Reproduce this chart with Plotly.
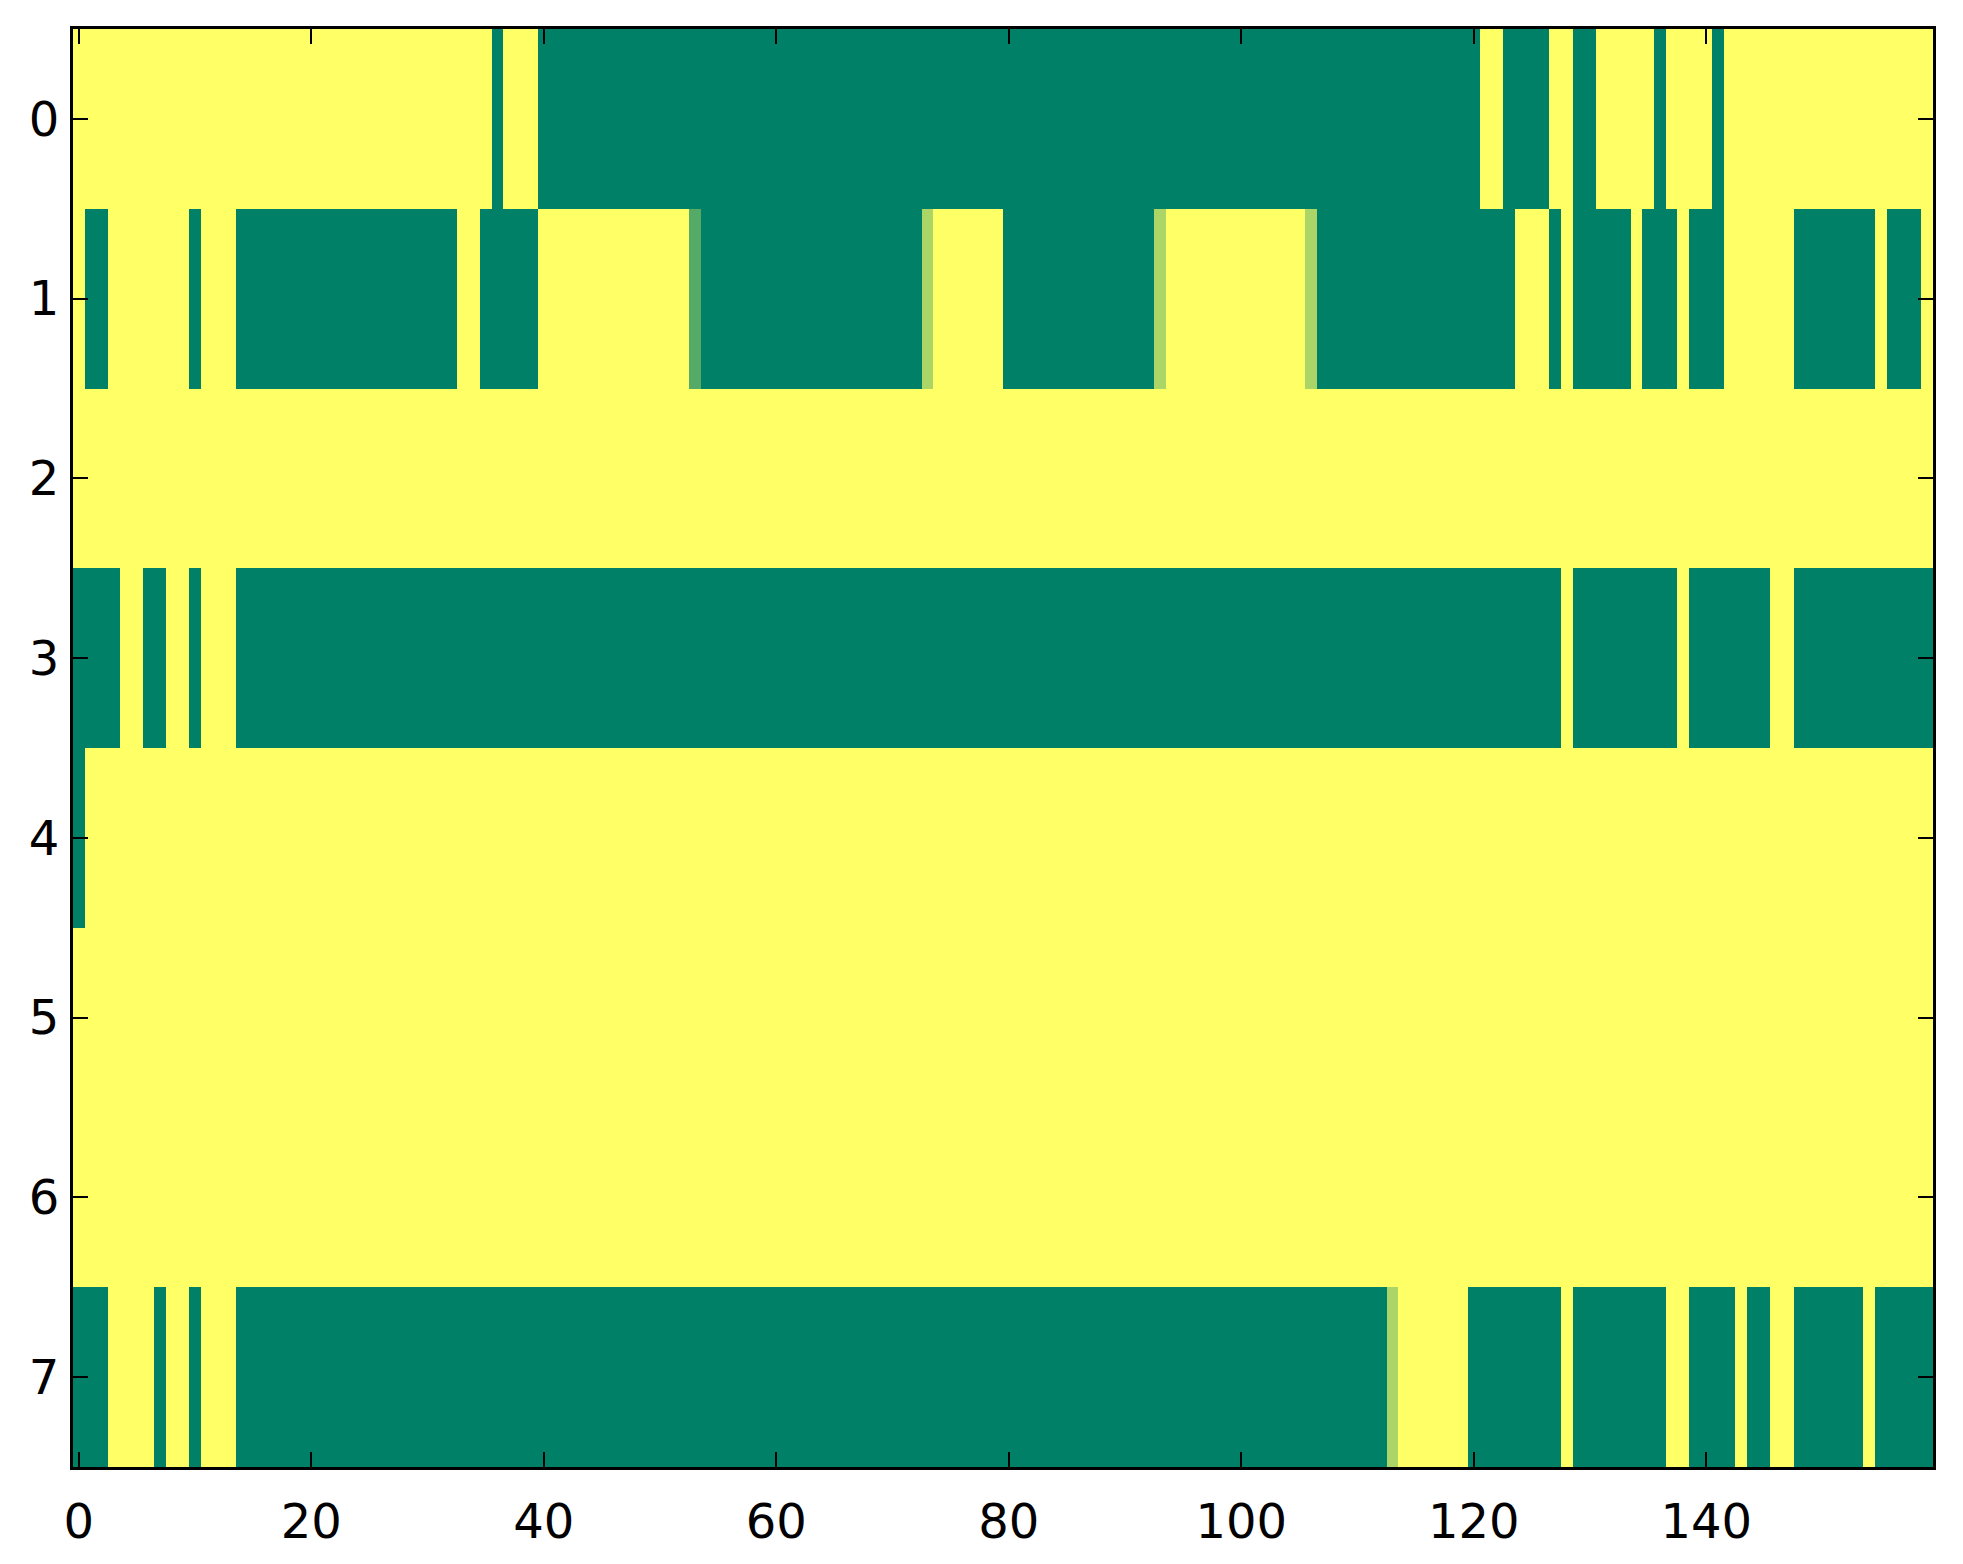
import plotly.graph_objects as go

# valores: 1 = amarillo, 0 = verde, intermedios en 0.33 / 0.67
row_0 = [1, 1, 1, 1, 1, 1, 1, 1, 1, 1, 1, 1, 1, 1, 1, 1, 1, 1, 1, 1,
         1, 1, 1, 1, 1, 1, 1, 1, 1, 1, 1, 1, 1, 1, 1, 1, 0, 1, 1, 1,
         0, 0, 0, 0, 0, 0, 0, 0, 0, 0, 0, 0, 0, 0, 0, 0, 0, 0, 0, 0,
         0, 0, 0, 0, 0, 0, 0, 0, 0, 0, 0, 0, 0, 0, 0, 0, 0, 0, 0, 0,
         0, 0, 0, 0, 0, 0, 0, 0, 0, 0, 0, 0, 0, 0, 0, 0, 0, 0, 0, 0,
         0, 0, 0, 0, 0, 0, 0, 0, 0, 0, 0, 0, 0, 0, 0, 0, 0, 0, 0, 0,
         0, 1, 1, 0, 0, 0, 0, 1, 1, 0, 0, 1, 1, 1, 1, 1, 0, 1, 1, 1,
         1, 0, 1, 1, 1, 1, 1, 1, 1, 1, 1, 1, 1, 1, 1, 1, 1, 1, 1, 1]
row_1 = [1, 0, 0, 1, 1, 1, 1, 1, 1, 1, 0, 1, 1, 1, 0, 0, 0, 0, 0, 0,
         0, 0, 0, 0, 0, 0, 0, 0, 0, 0, 0, 0, 0, 1, 1, 0, 0, 0, 0, 0,
         1, 1, 1, 1, 1, 1, 1, 1, 1, 1, 1, 1, 1, 0.33, 0, 0, 0, 0, 0, 0,
         0, 0, 0, 0, 0, 0, 0, 0, 0, 0, 0, 0, 0, 0.67, 1, 1, 1, 1, 1, 1,
         0, 0, 0, 0, 0, 0, 0, 0, 0, 0, 0, 0, 0, 0.67, 1, 1, 1, 1, 1, 1,
         1, 1, 1, 1, 1, 1, 0.67, 0, 0, 0, 0, 0, 0, 0, 0, 0, 0, 0, 0, 0,
         0, 0, 0, 0, 1, 1, 1, 0, 1, 0, 0, 0, 0, 0, 1, 0, 0, 0, 1, 0,
         0, 0, 1, 1, 1, 1, 1, 1, 0, 0, 0, 0, 0, 0, 0, 1, 0, 0, 0, 1]
row_2 = [1, 1, 1, 1, 1, 1, 1, 1, 1, 1, 1, 1, 1, 1, 1, 1, 1, 1, 1, 1,
         1, 1, 1, 1, 1, 1, 1, 1, 1, 1, 1, 1, 1, 1, 1, 1, 1, 1, 1, 1,
         1, 1, 1, 1, 1, 1, 1, 1, 1, 1, 1, 1, 1, 1, 1, 1, 1, 1, 1, 1,
         1, 1, 1, 1, 1, 1, 1, 1, 1, 1, 1, 1, 1, 1, 1, 1, 1, 1, 1, 1,
         1, 1, 1, 1, 1, 1, 1, 1, 1, 1, 1, 1, 1, 1, 1, 1, 1, 1, 1, 1,
         1, 1, 1, 1, 1, 1, 1, 1, 1, 1, 1, 1, 1, 1, 1, 1, 1, 1, 1, 1,
         1, 1, 1, 1, 1, 1, 1, 1, 1, 1, 1, 1, 1, 1, 1, 1, 1, 1, 1, 1,
         1, 1, 1, 1, 1, 1, 1, 1, 1, 1, 1, 1, 1, 1, 1, 1, 1, 1, 1, 1]
row_3 = [0, 0, 0, 0, 1, 1, 0, 0, 1, 1, 0, 1, 1, 1, 0, 0, 0, 0, 0, 0,
         0, 0, 0, 0, 0, 0, 0, 0, 0, 0, 0, 0, 0, 0, 0, 0, 0, 0, 0, 0,
         0, 0, 0, 0, 0, 0, 0, 0, 0, 0, 0, 0, 0, 0, 0, 0, 0, 0, 0, 0,
         0, 0, 0, 0, 0, 0, 0, 0, 0, 0, 0, 0, 0, 0, 0, 0, 0, 0, 0, 0,
         0, 0, 0, 0, 0, 0, 0, 0, 0, 0, 0, 0, 0, 0, 0, 0, 0, 0, 0, 0,
         0, 0, 0, 0, 0, 0, 0, 0, 0, 0, 0, 0, 0, 0, 0, 0, 0, 0, 0, 0,
         0, 0, 0, 0, 0, 0, 0, 0, 1, 0, 0, 0, 0, 0, 0, 0, 0, 0, 1, 0,
         0, 0, 0, 0, 0, 0, 1, 1, 0, 0, 0, 0, 0, 0, 0, 0, 0, 0, 0, 0]
row_4 = [0, 1, 1, 1, 1, 1, 1, 1, 1, 1, 1, 1, 1, 1, 1, 1, 1, 1, 1, 1,
         1, 1, 1, 1, 1, 1, 1, 1, 1, 1, 1, 1, 1, 1, 1, 1, 1, 1, 1, 1,
         1, 1, 1, 1, 1, 1, 1, 1, 1, 1, 1, 1, 1, 1, 1, 1, 1, 1, 1, 1,
         1, 1, 1, 1, 1, 1, 1, 1, 1, 1, 1, 1, 1, 1, 1, 1, 1, 1, 1, 1,
         1, 1, 1, 1, 1, 1, 1, 1, 1, 1, 1, 1, 1, 1, 1, 1, 1, 1, 1, 1,
         1, 1, 1, 1, 1, 1, 1, 1, 1, 1, 1, 1, 1, 1, 1, 1, 1, 1, 1, 1,
         1, 1, 1, 1, 1, 1, 1, 1, 1, 1, 1, 1, 1, 1, 1, 1, 1, 1, 1, 1,
         1, 1, 1, 1, 1, 1, 1, 1, 1, 1, 1, 1, 1, 1, 1, 1, 1, 1, 1, 1]
row_5 = [1, 1, 1, 1, 1, 1, 1, 1, 1, 1, 1, 1, 1, 1, 1, 1, 1, 1, 1, 1,
         1, 1, 1, 1, 1, 1, 1, 1, 1, 1, 1, 1, 1, 1, 1, 1, 1, 1, 1, 1,
         1, 1, 1, 1, 1, 1, 1, 1, 1, 1, 1, 1, 1, 1, 1, 1, 1, 1, 1, 1,
         1, 1, 1, 1, 1, 1, 1, 1, 1, 1, 1, 1, 1, 1, 1, 1, 1, 1, 1, 1,
         1, 1, 1, 1, 1, 1, 1, 1, 1, 1, 1, 1, 1, 1, 1, 1, 1, 1, 1, 1,
         1, 1, 1, 1, 1, 1, 1, 1, 1, 1, 1, 1, 1, 1, 1, 1, 1, 1, 1, 1,
         1, 1, 1, 1, 1, 1, 1, 1, 1, 1, 1, 1, 1, 1, 1, 1, 1, 1, 1, 1,
         1, 1, 1, 1, 1, 1, 1, 1, 1, 1, 1, 1, 1, 1, 1, 1, 1, 1, 1, 1]
row_6 = [1, 1, 1, 1, 1, 1, 1, 1, 1, 1, 1, 1, 1, 1, 1, 1, 1, 1, 1, 1,
         1, 1, 1, 1, 1, 1, 1, 1, 1, 1, 1, 1, 1, 1, 1, 1, 1, 1, 1, 1,
         1, 1, 1, 1, 1, 1, 1, 1, 1, 1, 1, 1, 1, 1, 1, 1, 1, 1, 1, 1,
         1, 1, 1, 1, 1, 1, 1, 1, 1, 1, 1, 1, 1, 1, 1, 1, 1, 1, 1, 1,
         1, 1, 1, 1, 1, 1, 1, 1, 1, 1, 1, 1, 1, 1, 1, 1, 1, 1, 1, 1,
         1, 1, 1, 1, 1, 1, 1, 1, 1, 1, 1, 1, 1, 1, 1, 1, 1, 1, 1, 1,
         1, 1, 1, 1, 1, 1, 1, 1, 1, 1, 1, 1, 1, 1, 1, 1, 1, 1, 1, 1,
         1, 1, 1, 1, 1, 1, 1, 1, 1, 1, 1, 1, 1, 1, 1, 1, 1, 1, 1, 1]
row_7 = [0, 0, 0, 1, 1, 1, 1, 0, 1, 1, 0, 1, 1, 1, 0, 0, 0, 0, 0, 0,
         0, 0, 0, 0, 0, 0, 0, 0, 0, 0, 0, 0, 0, 0, 0, 0, 0, 0, 0, 0,
         0, 0, 0, 0, 0, 0, 0, 0, 0, 0, 0, 0, 0, 0, 0, 0, 0, 0, 0, 0,
         0, 0, 0, 0, 0, 0, 0, 0, 0, 0, 0, 0, 0, 0, 0, 0, 0, 0, 0, 0,
         0, 0, 0, 0, 0, 0, 0, 0, 0, 0, 0, 0, 0, 0, 0, 0, 0, 0, 0, 0,
         0, 0, 0, 0, 0, 0, 0, 0, 0, 0, 0, 0, 0, 0.67, 1, 1, 1, 1, 1, 1,
         0, 0, 0, 0, 0, 0, 0, 0, 1, 0, 0, 0, 0, 0, 0, 0, 0, 1, 1, 0,
         0, 0, 0, 1, 0, 0, 1, 1, 0, 0, 0, 0, 0, 0, 1, 0, 0, 0, 0, 0]

rows = [row_0, row_1, row_2, row_3, row_4, row_5, row_6, row_7]
x_ticks = [0, 20, 40, 60, 80, 100, 120, 140]
y_ticks = [0, 1, 2, 3, 4, 5, 6, 7]

# colormap "summer" de matplotlib
summer = [[0.0, 'rgb(0,128,102)'], [1.0, 'rgb(255,255,102)']]

fig = go.Figure()
fig.add_trace(go.Heatmap(
    z=rows,
    x=list(range(len(row_0))),
    y=list(range(len(rows))),
    colorscale=summer,
    zmin=0, zmax=1,
    showscale=False,
    hoverinfo='skip'
))

axis_style = dict(
    showline=True, linecolor='black', linewidth=3, mirror='ticks',
    ticks='inside', ticklen=15, tickwidth=2, tickcolor='black',
    showgrid=False, zeroline=False,
    tickfont=dict(family='DejaVu Sans', size=48, color='black'),
)

fig.update_xaxes(range=[-0.5, len(row_0) - 0.5], tickvals=x_ticks,
                 ticklabelstandoff=10, **axis_style)
fig.update_yaxes(range=[len(rows) - 0.5, -0.5], tickvals=y_ticks,
                 ticklabelstandoff=1, **axis_style)

fig.update_layout(
    width=1963, height=1564,
    margin=dict(l=73, r=30, t=29, b=97),
    paper_bgcolor='white', plot_bgcolor='white',
)

# quitar el margen por defecto del body para que la figura quede en (0, 0)
fig.write_html("out.html", config={'displayModeBar': False},
               post_script="document.body.style.margin='0';")
